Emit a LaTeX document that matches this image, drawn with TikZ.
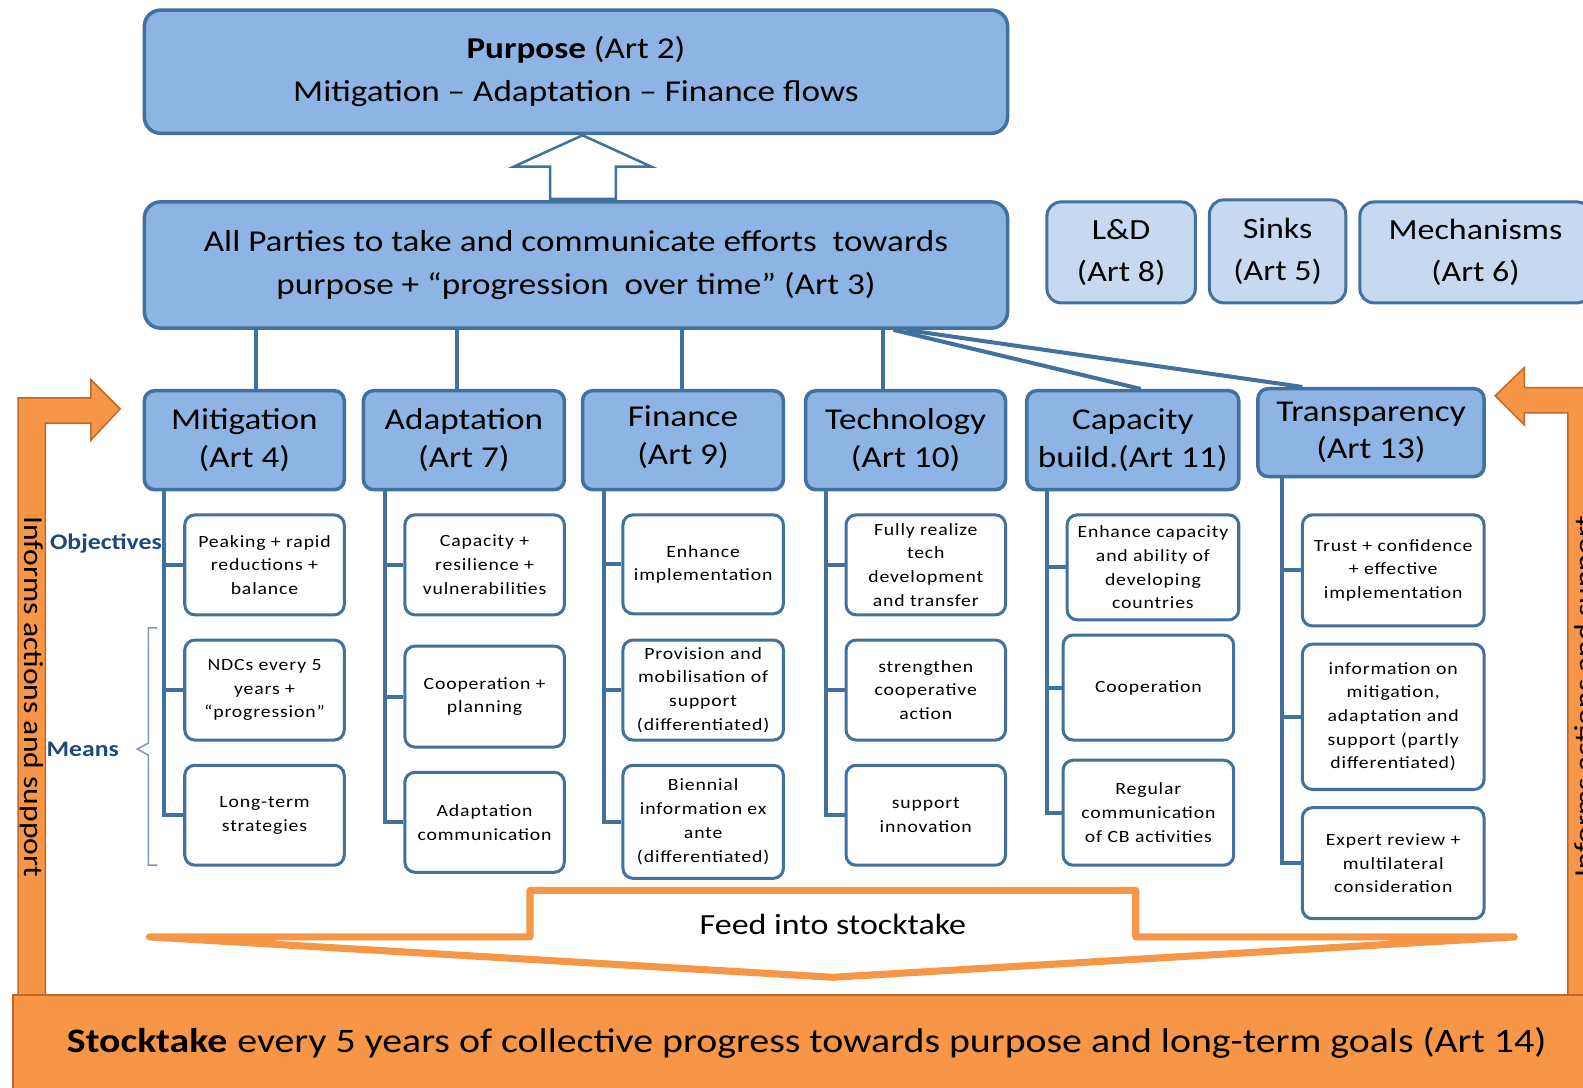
\documentclass[tikz,border=0pt]{standalone}
\usepackage{fontspec}
\setmainfont{Carlito}[FakeStretch=1.16]
\newfontfamily\spaced{Carlito}[FakeStretch=1.15,LetterSpace=5]
\definecolor{bfill}{HTML}{8EB4E3}
\definecolor{bline}{HTML}{41719C}
\definecolor{lfill}{HTML}{C6D9F1}
\definecolor{ofill}{HTML}{F79646}
\definecolor{oline}{HTML}{C0682A}
\definecolor{lblue}{HTML}{1F497D}
\definecolor{brace}{HTML}{8497B0}
\newcommand\colconn[5]{%
  \draw[conn] (#2.south -| #1) |- (#5.west);
  \draw[conn] (#3.west) -- (#3.west -| #1);
  \draw[conn] (#4.west) -- (#4.west -| #1);}
\begin{document}
\begin{tikzpicture}[x=1pt,y=-1pt,
  mainbox/.style={draw=bline, line width=3.5pt, fill=bfill, rounded corners=16pt, align=center, inner sep=0pt, font=\fontsize{30}{43}\selectfont},
  catbox/.style={draw=bline, line width=3.5pt, fill=bfill, rounded corners=10pt, align=center, inner sep=0pt, font=\fontsize{30}{37}\selectfont},
  sidebox/.style={draw=bline, line width=3pt, fill=lfill, rounded corners=14pt, align=center, inner sep=0pt, font=\fontsize{29}{42}\selectfont},
  subbox/.style={draw=bline, line width=3pt, fill=white, rounded corners=10pt, align=center, inner sep=0pt, font=\spaced\fontsize{17}{23.5}\selectfont},
  conn/.style={draw=bline, line width=4pt},
  orangearrow/.style={fill=ofill, draw=oline, line width=1.5pt, line join=miter},
  lbl/.style={text=lblue, font=\bfseries\fontsize{22}{26}\selectfont, inner sep=0pt}
]
\useasboundingbox (0,0) rectangle (1568,1077);

% orange side arrows
\path[orangearrow] (18,1000) -- (18,394) -- (90,394) -- (90,376) -- (119,405) -- (90,436) -- (90,419) -- (45,419) -- (45,1000) -- cycle;
\node[rotate=-90, font=\fontsize{27}{30}\selectfont, inner sep=0pt] (infl) at (31,690) {Informs actions and support};
\path[orangearrow] (1582,1000) -- (1582,384) -- (1510,384) -- (1510,364) -- (1481,392) -- (1510,421) -- (1510,409) -- (1553,409) -- (1553,1000) -- cycle;
\node[rotate=90, font=\fontsize{27}{30}\selectfont, inner sep=0pt] (infr) at (1571,690) {Informs actions and support};

% stocktake
\node[draw=oline, line width=1.5pt, fill=ofill, minimum width=1570pt, minimum height=94pt, inner sep=0pt, anchor=north west] (st) at (12,985) {};
\node[font=\fontsize{34}{38}\selectfont, inner sep=0pt] (sttext) at (799,1033) {\textbf{Stocktake}\hspace{10pt}every 5 years of collective progress towards purpose and long-term goals (Art 14)};

% feed into stocktake arrow
\path[draw=ofill, line width=7pt, fill=white, line join=round] (148,928) -- (525,928) -- (525,882) -- (1125,882) -- (1125,928) -- (1500,928) -- (825,968) -- cycle;
\node[font=\fontsize{29}{32}\selectfont, inner sep=0pt] (feed) at (825,916) {Feed into stocktake};

% top boxes
\node[mainbox, minimum width=855pt, minimum height=122pt] (purpose) at (570.5,71) {\textbf{Purpose} (Art 2)\\Mitigation -- Adaptation -- Finance flows};
\node[mainbox, minimum width=855pt, minimum height=125pt] (ap) at (570.5,262.5) {All Parties to take and communicate efforts \ towards\\purpose + “progression \ over time” (Art 3)};

% hollow arrow
\draw[draw=bline, line width=2.5pt, fill=white, line join=miter] (577,134) -- (645,165) -- (610,165) -- (610,197) -- (545,197) -- (545,165) -- (509,165) -- cycle;

% side boxes
\node[sidebox, minimum width=147pt, minimum height=100pt] (ld) at (1110.5,250) {L\&D\\(Art 8)};
\node[sidebox, minimum width=135pt, minimum height=102pt] (sinks) at (1265.5,249) {Sinks\\(Art 5)};
\node[sidebox, minimum width=229pt, minimum height=100pt] (mech) at (1461.5,250) {Mechanisms\\(Art 6)};

% category boxes
\node[catbox, minimum width=198pt, minimum height=98pt] (mit) at (242,436) {Mitigation\\(Art 4)};
\node[catbox, minimum width=199pt, minimum height=98pt] (ada) at (459.5,436) {Adaptation\\(Art 7)};
\node[catbox, minimum width=199pt, minimum height=98pt] (fin) at (676.5,436) {Finance\\(Art 9)\\[-27pt]};
\node[catbox, minimum width=198pt, minimum height=98pt] (tech) at (897,436) {Technology\\(Art 10)};
\node[catbox, minimum width=210pt, minimum height=98pt] (cap) at (1122,436) {Capacity\\build.(Art 11)};
\node[catbox, minimum width=224pt, minimum height=87pt] (tr) at (1358,428.5) {Transparency\\(Art 13)};

% connectors from ap
\coordinate (v1) at (254,0);
\coordinate (v2) at (453,0);
\coordinate (v3) at (676,0);
\coordinate (v4) at (875,0);
\coordinate (d1) at (885,0);
\coordinate (d2) at (897,0);
\coordinate (e1) at (1130,0);
\coordinate (e2) at (1290,0);
\draw[conn] (ap.south -| v1) -- (mit.north -| v1);
\draw[conn] (ap.south -| v2) -- (ada.north -| v2);
\draw[conn] (ap.south -| v3) -- (fin.north -| v3);
\draw[conn] (ap.south -| v4) -- (tech.north -| v4);
\draw[conn] (ap.south -| d1) -- (cap.north -| e1);
\draw[conn] (ap.south -| d2) -- (tr.north -| e2);

% sub boxes
\node[subbox, minimum width=158pt, minimum height=99pt] (m1) at (262,559.5) {Peaking + rapid\\reductions +\\balance};
\node[subbox, minimum width=158pt, minimum height=99pt] (m2) at (262,683.5) {NDCs every 5\\years +\\“progression”};
\node[subbox, minimum width=158pt, minimum height=99pt] (m3) at (262,807.5) {Long-term\\strategies};

\node[subbox, minimum width=158pt, minimum height=99pt] (a1) at (480,559.5) {Capacity +\\resilience +\\vulnerabilities};
\node[subbox, minimum width=158pt, minimum height=100pt] (a2) at (480,690) {Cooperation +\\planning};
\node[subbox, minimum width=158pt, minimum height=99pt] (a3) at (480,814.5) {Adaptation\\communication};

\node[subbox, minimum width=159pt, minimum height=98pt] (f1) at (696.5,559) {Enhance\\implementation};
\node[subbox, minimum width=159pt, minimum height=99pt] (f2) at (696.5,683.5) {Provision and\\mobilisation of\\support\\(differentiated)};
\node[subbox, minimum width=159pt, minimum height=112pt] (f3) at (696.5,814) {Biennial\\information ex\\ante\\(differentiated)};

\node[subbox, minimum width=158pt, minimum height=99pt] (t1) at (917,559.5) {Fully realize\\tech\\development\\and transfer};
\node[subbox, minimum width=158pt, minimum height=99pt] (t2) at (917,683.5) {strengthen\\cooperative\\action};
\node[subbox, minimum width=158pt, minimum height=99pt] (t3) at (917,807.5) {support\\innovation};

\node[subbox, minimum width=170pt, minimum height=104pt] (c1) at (1142,562) {Enhance capacity\\and ability of\\developing\\countries};
\node[subbox, minimum width=169pt, minimum height=104pt] (c2) at (1137.5,681) {Cooperation};
\node[subbox, minimum width=169pt, minimum height=104pt] (c3) at (1137.5,805) {Regular\\communication\\of CB activities};

\node[subbox, minimum width=180pt, minimum height=110pt] (r1) at (1380,565) {Trust + confidence\\+ effective\\implementation};
\node[subbox, minimum width=180pt, minimum height=144pt] (r2) at (1380,710) {information on\\mitigation,\\adaptation and\\support (partly\\differentiated)};
\node[subbox, minimum width=180pt, minimum height=110pt] (r3) at (1380,855) {Expert review +\\multilateral\\consideration};

% labels (drawn before trunks so the trunk overlaps)
\node[lbl] (obj) at (105,538) {Objectives};
\node[lbl] (means) at (82,742) {Means};
\draw[brace, line width=1.5pt] (156,622) -- (147,622) -- (147,736) -- (136,742) -- (147,748) -- (147,857) -- (156,857);

% column connectors
\coordinate (tm) at (162,0);
\coordinate (ta) at (381,0);
\coordinate (tf) at (598,0);
\coordinate (tt) at (818,0);
\coordinate (tc) at (1037,0);
\coordinate (trr) at (1270,0);
\colconn{tm}{mit}{m1}{m2}{m3}
\colconn{ta}{ada}{a1}{a2}{a3}
\colconn{tf}{fin}{f1}{f2}{f3}
\colconn{tt}{tech}{t1}{t2}{t3}
\colconn{tc}{cap}{c1}{c2}{c3}
\colconn{trr}{tr}{r1}{r2}{r3}
\end{tikzpicture}
\end{document}
